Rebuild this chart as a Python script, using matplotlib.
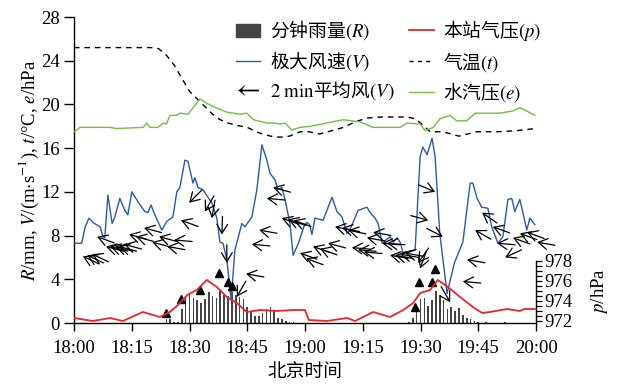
import matplotlib
matplotlib.use('Agg')
import matplotlib.pyplot as plt
from matplotlib.lines import Line2D
from matplotlib.patches import Patch
from matplotlib.font_manager import FontProperties
import numpy as np

plt.rcParams['mathtext.fontset'] = 'stix'
plt.rcParams['font.family'] = ['Liberation Serif', 'Noto Sans CJK SC']

# time in minutes after 18:00
rain_t = [24, 25, 26, 27, 28, 29, 30, 31, 32, 33, 34, 35, 36, 37, 38, 39, 40, 41,
          42, 43, 44, 45, 46, 47, 48, 49, 50, 51, 52, 53, 54, 55, 56, 57,
          87, 88, 89, 90, 91, 92, 93, 94, 95, 96, 97, 98, 99, 100, 101, 102,
          103, 104, 105, 107, 112]
rain_R = [0.35, 0.4, 0.12, 0.12, 1.3, 2.3, 2.7, 2.3, 2.1, 1.8, 2.2, 2.8, 2.5, 2.3,
          2.9, 2.6, 2.5, 2.8, 2.6, 2.4, 2.2, 1.5, 1.0, 0.6, 0.6, 0.9, 1.3, 1.5,
          1.1, 0.45, 0.4, 0.2, 0.1, 0.1,
          0.1, 0.5, 1.3, 2.2, 2.3, 1.6, 2.1, 2.9, 2.6, 2.1, 1.3, 1.5, 1.1, 1.4,
          0.7, 0.5, 0.4, 0.2, 0.1, 0.05, 0.05]

gust_t = [0, 1, 2, 2.9, 3.9, 4.9, 6.8, 7.5, 8, 8.8, 9.9, 10.6, 11.9, 13.2, 14, 15,
          16.6, 18.4, 19.2, 20, 21, 22.8, 24.1, 25.7, 26.7, 27.5, 28.8, 29.6,
          30.9, 31.4, 32.2, 33.5, 34.8, 35.8, 37.1, 37.9, 38.7, 39.7, 40.8, 41.8,
          43.6, 44.4, 46.2, 47.5, 48.8, 50.1, 50.9, 52.2, 53, 54, 54.8, 56.1,
          56.9, 58.3, 59.7, 60.5, 61.2, 61.8, 62.6, 64.7, 67, 68.3, 69.6, 70.9,
          71.5, 73.8, 76.1, 76.9, 78.2, 79, 80, 82.1, 82.9, 83.9, 84.7, 85.5,
          88.6, 89.9, 90.6, 91.7, 93, 93.8, 95, 96.9, 98.2, 98.8, 101, 102.9,
          103.6, 104.7, 105.9, 107.5, 108.5, 110.1, 111.4, 112.7, 113.7, 114.5,
          115.8, 116.6, 117.6, 118.4, 119.7]
gust_V = [7.3, 7.3, 7.3, 8.8, 9.6, 9.2, 8.8, 7.9, 7.8, 11.7, 9.1, 9.7, 11.4, 10.3,
          9.9, 12.0, 11.1, 10.2, 10.1, 10.8, 9.9, 8.5, 9.3, 9.7, 12.0, 12.4, 14.9,
          14.8, 12.8, 13.3, 12.4, 12.2, 11.5, 11.0, 9.6, 7.4, 7.3, 5.8, 2.1, 6.7,
          9.1, 8.8, 9.7, 12.2, 16.3, 14.9, 13.7, 13.1, 12.2, 12.4, 11.3, 9.1,
          6.2, 7.3, 8.8, 9.2, 9.0, 8.1, 9.6, 9.4, 11.5, 10.2, 9.7, 8.2, 8.4,
          10.3, 10.6, 10.1, 9.6, 9.1, 7.3, 7.9, 7.4, 7.8, 7.4, 6.4, 6.7, 15.2,
          16.1, 15.4, 16.9, 15.2, 8.2, 2.7, 4.6, 5.5, 7.4, 12.8, 12.8, 11.4, 10.6,
          10.5, 8.8, 7.3, 7.9, 11.3, 11.4, 10.2, 11.3, 10.1, 8.5, 9.6, 9.0]

temp_t = [0, 5, 10, 15, 20, 22, 24, 26, 28, 30, 32, 34, 36, 38, 40, 42, 45, 48, 51,
          53.5, 56, 58.7, 61, 63.9, 67, 70, 73, 76, 80, 86.5, 88.5, 90, 92.5, 95.8,
          100, 104.6, 110, 115, 120]
temp_T = [25.2, 25.2, 25.2, 25.2, 25.2, 25.1, 24.5, 23.6, 22.4, 21.2, 20.5, 19.8,
          19.1, 18.6, 18.3, 18.1, 17.9, 17.4, 17.1, 17.0, 17.1, 17.5, 17.5, 17.3,
          17.6, 17.9, 18.4, 18.75, 18.85, 18.85, 18.7, 18.3, 17.5, 17.5, 17.1,
          17.5, 17.5, 17.6, 17.8]

vap_t = [0, 0.7, 1.5, 9.3, 11, 18, 18.9, 19.7, 21.8, 23.2, 24, 24.9, 26.6, 27.5,
         29.6, 32.7, 34.5, 36.2, 39.6, 43.1, 44.9, 46.6, 50.1, 52, 53.5, 54.8,
         56.6, 58.7, 61.3, 65.7, 69.9, 74.3, 77.7, 84.7, 86.5, 89.9, 91.2, 93.3,
         95.1, 97.7, 99.4, 102, 104.2, 110.6, 114, 115.8, 117.6, 119.7]
vap_e = [17.5, 17.65, 17.9, 17.9, 17.8, 17.9, 18.3, 17.9, 17.9, 18.3, 18.2, 19.0,
         19.0, 19.2, 19.1, 20.5, 20.1, 19.8, 19.3, 19.1, 19.2, 18.6, 18.3, 18.3,
         18.2, 18.3, 17.65, 17.9, 18.0, 18.3, 18.6, 18.4, 17.9, 17.9, 18.3, 18.2,
         17.6, 17.9, 18.7, 19.0, 18.5, 18.5, 19.2, 19.2, 19.4, 19.7, 19.4, 19.0]

pres_t = [0, 4.9, 9.4, 12.7, 17.9, 22.3, 24.9, 27, 29.4, 31.9, 34.5, 37.1, 39.7,
          42.3, 44.9, 48.3, 52.7, 56.9, 60, 61, 65.7, 70.9, 73, 77.7, 82.1, 85.5,
          88.1, 89.9, 92.5, 94.5, 97.1, 100.3, 103.6, 106, 108, 112.5, 115.8,
          117, 120]
pres_p = [972.3, 972.0, 972.3, 972.0, 972.9, 972.4, 972.9, 973.6, 974.6, 975.1,
          976.1, 975.4, 974.4, 973.8, 972.9, 973.1, 973.0, 973.1, 973.1, 972.1,
          972.0, 972.3, 972.0, 972.9, 972.4, 973.1, 973.8, 974.8, 975.1, 976.1,
          975.4, 974.4, 973.4, 972.8, 972.9, 973.2, 973.0, 973.2, 973.2]

tri_t = [23.9, 27.8, 32.7, 37.7, 40, 41, 88.6, 89.6, 93, 93.8]
tri_v = [0.9, 2.2, 3.0, 4.6, 3.75, 3.4, 1.5, 3.75, 3.75, 4.9]

# 2-min mean wind: time, speed, arrow heading (deg, screen)
wind_t = [2.3, 3.4, 4.7, 6.0, 8.3, 9.4, 10.7, 11.7, 13.0, 14.3, 16.1, 18.2, 20.3,
          22.1, 24.2, 26.0, 27.8, 29.9, 34.0, 35.8, 38.4, 39.7, 42.3, 44.7, 46.2,
          48.1, 50.1, 51.7, 54.0, 55.6, 57.1, 58.7, 60.3, 62.1, 63.9, 66.0, 67.8,
          69.6, 71.2, 72.2, 73.8, 75.3, 76.1, 77.7, 80.0, 81.3, 82.1, 83.4, 84.7,
          86.0, 89.4, 89.9, 92.0, 93.8, 95.8, 97.7, 101.0, 102.1, 104.2, 106.0,
          108.8, 109.9, 112.0, 114.0, 115.8, 117.7, 120.3]
wind_v = [6.1, 6.2, 6.3, 7.9, 7.0, 7.0, 7.0, 7.0, 7.2, 8.1, 7.9, 8.7, 7.4, 7.9,
          7.0, 7.6, 9.4, 11.0, 10.2, 9.6, 8.1, 5.5, 2.4, 4.5, 7.2, 8.5, 11.4, 12.4,
          9.6, 9.5, 9.4, 6.4, 5.9, 7.0, 6.8, 7.3, 8.8, 8.7, 8.5, 6.9, 6.7, 6.5,
          7.8, 8.3, 7.3, 7.3, 6.2, 6.2, 6.3, 6.4, 5.5, 5.0, 9.4, 12.0, 7.9, 1.9,
          3.8, 5.8, 8.5, 10.1, 8.8, 7.3, 6.0, 7.8, 8.2, 8.3, 7.4]
wind_dir = [155, 155, 155, 160, 165, 165, 165, 165, 165, 165, 165, 165, 165, 165,
            170, 175, 160, 225, 240, 260, 268, 270, 240, 170, 175, 170, 175, 165,
            160, 160, 160, 160, 160, 160, 160, 165, 168, 168, 168, 175, 175, 175,
            170, 170, 175, 175, 170, 170, 170, 170, 235, 250, 345, 337, 333, 300,
            175, 170, 150, 145, 160, 175, 205, 160, 160, 160, 170]

tick_min = [0, 15, 30, 45, 60, 75, 90, 105, 120]
tick_lab = ['18:00', '18:15', '18:30', '18:45', '19:00', '19:15', '19:30', '19:45', '20:00']

fig = plt.figure(figsize=(6.19, 3.84), dpi=100)
ax = fig.add_axes([74 / 619, 1 - 323 / 384, 462 / 619, 306 / 384])

ax.bar(rain_t, rain_R, width=0.42, color='#444444', zorder=2)
ax.plot(gust_t, gust_V, color='#2b5aa8', lw=1.0, zorder=3)
ax.plot(temp_t, temp_T, color='k', lw=1.0, dashes=(4, 3.5), zorder=3)
ax.plot(vap_t, vap_e, color='#72bf44', lw=1.0, zorder=3)
ax.plot(tri_t, tri_v, ls='none', marker='^', color='k', ms=6, zorder=5)

L = 13.0
for t, v, d in zip(wind_t, wind_v, wind_dir):
    a = np.deg2rad(d)
    ax.annotate('', xy=(t, v), xytext=(-L * np.cos(a), -L * np.sin(a)),
                textcoords='offset points', annotation_clip=False,
                arrowprops=dict(arrowstyle='->,head_length=0.5,head_width=0.3',
                                color='k', lw=0.9, shrinkA=0, shrinkB=0,
                                mutation_scale=13))

ax.set_xlim(0, 120)
ax.set_ylim(0, 28)
ax.set_xticks(tick_min)
ax.set_xticklabels(tick_lab)
ax.set_yticks(np.arange(0, 29, 4))
ax.tick_params(axis='both', direction='out', labelsize=13.5, width=1.0)
ax.tick_params(axis='y', length=7, pad=3)
ax.tick_params(axis='x', length=6, pad=6)
for s in ['top', 'right']:
    ax.spines[s].set_visible(False)
for s in ['left', 'bottom']:
    ax.spines[s].set_linewidth(1.0)
ax.set_xlabel('北京时间', fontsize=13.5, family=['Noto Sans CJK SC'], labelpad=3)
ax.set_ylabel(r'$R$/mm, $V$/(m$\cdot$s$^{-1}$), $t$/°C, $e$/hPa', fontsize=13.5, labelpad=0)

ax2 = ax.twinx()
ax2.plot(pres_t, pres_p, color='#e8262a', lw=1.3, zorder=4)
ax2.set_ylim(971.8, 1002.4)
for s in ['top', 'left', 'bottom']:
    ax2.spines[s].set_visible(False)
ax2.spines['right'].set_bounds(971.8, 978)
ax2.spines['right'].set_linewidth(1.0)
ax2.set_yticks([972, 974, 976, 978])
ax2.set_yticks([972.5, 973, 973.5, 974.5, 975, 975.5, 976.5, 977, 977.5], minor=True)
ax2.tick_params(axis='y', which='both', direction='out', length=4, width=0.9,
                labelsize=13.5, pad=2)
ax2.set_ylabel(r'$p$/hPa', fontsize=13.5)
ax2.yaxis.set_label_coords(1.115, 0.105)

handles = [Patch(color='#444444'),
           Line2D([], [], color='#2b5aa8', lw=1.0),
           Line2D([], [], ls='none', marker=r'$\leftarrow$', color='k', ms=15, mew=0),
           Line2D([], [], color='#e8262a', lw=1.3),
           Line2D([], [], color='k', lw=1.0, dashes=(3, 3)),
           Line2D([], [], color='#72bf44', lw=1.0)]
labels = ['分钟雨量$(R)$', '极大风速$(V)$', r'$\mathrm{2\ min}$平均风$(V)$',
          '本站气压$(p)$', '气温$(t)$', '水汽压$(e)$']
fp = FontProperties(family='Noto Sans CJK SC', size=13.5)
ax.legend(handles, labels, ncol=2, prop=fp, frameon=False, loc='upper left',
          bbox_to_anchor=(236 / 619, 1 - 18 / 384), bbox_transform=fig.transFigure,
          handlelength=1.3, handletextpad=0.5, columnspacing=0.8,
          labelspacing=0.35, borderpad=0, borderaxespad=0)

fig.savefig('out.png', dpi=100)
